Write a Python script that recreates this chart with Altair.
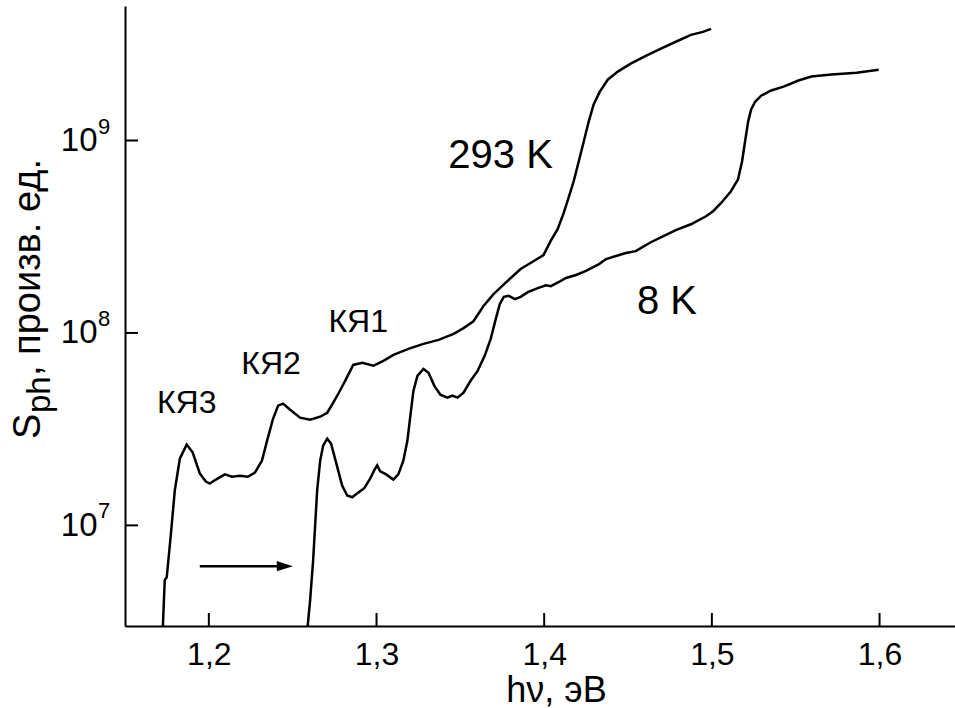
import altair as alt
import pandas as pd

FONT = "Liberation Sans"

# ---- 293 K curve (photon energy, eV ; photosignal, arb. units)
hv_293 = [1.1725, 1.1737, 1.1749, 1.1773, 1.1797, 1.1827, 1.1868, 1.1904, 1.1946, 1.1982,
          1.2006, 1.2042, 1.2096, 1.2138, 1.2185, 1.2233, 1.2275, 1.2317, 1.2347, 1.2383,
          1.2413, 1.2443, 1.2485, 1.2544, 1.2604, 1.2664, 1.2706, 1.2742, 1.2772, 1.2813,
          1.2861, 1.2915, 1.2981, 1.3041, 1.3101, 1.3190, 1.3280, 1.3370, 1.3460, 1.3519,
          1.3578, 1.3638, 1.3698, 1.3769, 1.3859, 1.3919, 1.3996, 1.4038, 1.4080, 1.4116,
          1.4146, 1.4176, 1.4206, 1.4236, 1.4265, 1.4295, 1.4331, 1.4379, 1.4439, 1.4516,
          1.4606, 1.4696, 1.4785, 1.4875, 1.4947, 1.4995]
s_293 = [2.86e6, 5.19e6, 5.38e6, 8.88e6, 1.52e7, 2.22e7, 2.63e7, 2.39e7, 1.86e7, 1.69e7,
         1.65e7, 1.73e7, 1.84e7, 1.79e7, 1.81e7, 1.79e7, 1.88e7, 2.17e7, 2.75e7, 3.58e7,
         4.19e7, 4.29e7, 3.99e7, 3.63e7, 3.54e7, 3.67e7, 3.85e7, 4.34e7, 4.83e7, 5.64e7,
         6.82e7, 7.00e7, 6.75e7, 7.16e7, 7.69e7, 8.26e7, 8.77e7, 9.20e7, 9.89e7, 1.06e8,
         1.15e8, 1.38e8, 1.59e8, 1.82e8, 2.15e8, 2.31e8, 2.54e8, 3.00e8, 3.46e8, 4.19e8,
         5.07e8, 6.14e8, 7.78e8, 9.88e8, 1.25e9, 1.54e9, 1.79e9, 2.07e9, 2.28e9, 2.51e9,
         2.75e9, 3.00e9, 3.26e9, 3.54e9, 3.67e9, 3.80e9]

# ---- 8 K curve
hv_8 = [1.2586, 1.2604, 1.2622, 1.2634, 1.2646, 1.2664, 1.2682, 1.2706, 1.2729, 1.2759,
        1.2795, 1.2825, 1.2855, 1.2891, 1.2927, 1.2962, 1.2986, 1.3004, 1.3022, 1.3058,
        1.3100, 1.3130, 1.3160, 1.3184, 1.3202, 1.3220, 1.3244, 1.3280, 1.3310, 1.3345,
        1.3381, 1.3423, 1.3453, 1.3483, 1.3519, 1.3561, 1.3603, 1.3645, 1.3681, 1.3711,
        1.3735, 1.3759, 1.3789, 1.3825, 1.3860, 1.3902, 1.3962, 1.4010, 1.4040, 1.4088,
        1.4130, 1.4190, 1.4249, 1.4327, 1.4369, 1.4428, 1.4487, 1.4546, 1.4576, 1.4636,
        1.4708, 1.4785, 1.4875, 1.4965, 1.5007, 1.5054, 1.5114, 1.5156, 1.5180, 1.5198,
        1.5216, 1.5234, 1.5258, 1.5294, 1.5354, 1.5432, 1.5516, 1.5594, 1.5713, 1.5863,
        1.5995]
s_8 = [2.79e6, 4.08e6, 6.59e6, 1.00e7, 1.52e7, 2.17e7, 2.60e7, 2.82e7, 2.66e7, 2.12e7,
       1.61e7, 1.43e7, 1.40e7, 1.48e7, 1.56e7, 1.75e7, 1.93e7, 2.05e7, 1.91e7, 1.84e7,
       1.73e7, 1.84e7, 2.17e7, 2.75e7, 3.72e7, 5.00e7, 5.98e7, 6.50e7, 6.21e7, 5.31e7,
       4.78e7, 4.61e7, 4.72e7, 4.61e7, 4.89e7, 5.64e7, 6.35e7, 7.60e7, 9.31e7, 1.18e8,
       1.41e8, 1.54e8, 1.56e8, 1.50e8, 1.54e8, 1.63e8, 1.71e8, 1.77e8, 1.75e8, 1.84e8,
       1.93e8, 2.00e8, 2.10e8, 2.28e8, 2.42e8, 2.51e8, 2.60e8, 2.66e8, 2.76e8, 2.96e8,
       3.18e8, 3.42e8, 3.67e8, 4.04e8, 4.29e8, 4.72e8, 5.45e8, 6.28e8, 7.78e8, 9.88e8,
       1.25e9, 1.45e9, 1.59e9, 1.71e9, 1.82e9, 1.91e9, 2.05e9, 2.15e9, 2.20e9, 2.25e9,
       2.33e9]

# ---- axes
x_ticks = [1.2, 1.3, 1.4, 1.5, 1.6]
y_ticks = [1e7, 1e8, 1e9]
y_exps = ["7", "8", "9"]
x_domain = [1.15, 1.645]
y_domain = [3e6, 5e9]

# ---- annotations
qw_text = ["КЯ3", "КЯ2", "КЯ1"]
qw_hv = [1.1868, 1.2371, 1.2891]
qw_s = [3.85e7, 6.14e7, 1.01e8]
temp_text = ["293 K", "8 K"]
temp_hv = [1.374, 1.4732]
temp_s = [7.16e8, 1.25e8]
arrow_hv_start = [1.1946]
arrow_hv_end = [1.2420]
arrow_head_hv = [1.2453]
arrow_s = [6.14e6]

W, H = 830, 620

curves = pd.DataFrame(
    {"hv": hv_293 + hv_8,
     "S": s_293 + s_8,
     "T": ["293 K"] * len(hv_293) + ["8 K"] * len(hv_8),
     "i": list(range(len(hv_293))) + list(range(len(hv_8)))})

xs = alt.Scale(domain=x_domain, nice=False, zero=False)
ys = alt.Scale(type="log", domain=y_domain, nice=False)

x_axis = alt.Axis(values=x_ticks, ticks=False, grid=False, domainWidth=2, domainColor="black",
                  labelExpr="replace(format(datum.value, '.1f'), '.', ',')",
                  labelFont=FONT, labelFontSize=32, labelColor="black",
                  labelBaseline="alphabetic", labelPadding=38,
                  title="hν, эВ", titleFont=FONT, titleFontSize=36, titleFontWeight="normal",
                  titleColor="black", titleBaseline="alphabetic", titleX=431, titleY=75)
y_axis = alt.Axis(values=y_ticks, ticks=False, grid=False, domainWidth=2, domainColor="black",
                  labelExpr="'10'", labelFont=FONT, labelFontSize=33, labelColor="black",
                  labelPadding=28, labelBaseline="middle", title="")


def X(field="hv"):
    return alt.X(f"{field}:Q", scale=xs, axis=x_axis)


def Y(field="S"):
    return alt.Y(f"{field}:Q", scale=ys, axis=y_axis)


lines = alt.Chart(curves).mark_line(color="black", strokeWidth=2.5, clip=True).encode(
    x=X(), y=Y(), detail="T:N", order="i:Q")

xt = alt.Chart(pd.DataFrame({"hv": x_ticks})).mark_rule(color="black", strokeWidth=2).encode(
    x=X(), y=alt.value(H), y2=alt.value(H - 13))
yt = alt.Chart(pd.DataFrame({"S": y_ticks})).mark_rule(color="black", strokeWidth=2).encode(
    y=Y(), x=alt.value(0), x2=alt.value(13))
sup = alt.Chart(pd.DataFrame({"S": y_ticks, "e": y_exps})).mark_text(
    font=FONT, fontSize=22, align="left", baseline="middle", dy=-14, color="black").encode(
    y=Y(), x=alt.value(-27), text="e:N")

qw = alt.Chart(pd.DataFrame({"hv": qw_hv, "S": qw_s, "t": qw_text})).mark_text(
    font=FONT, fontSize=32, align="center", baseline="alphabetic", color="black").encode(
    x=X(), y=Y(), text="t:N")
temps = alt.Chart(pd.DataFrame({"hv": temp_hv, "S": temp_s, "t": temp_text})).mark_text(
    font=FONT, fontSize=40, align="center", baseline="alphabetic", color="black").encode(
    x=X(), y=Y(), text="t:N")

arrow_df = pd.DataFrame({"hv": arrow_hv_start, "hv2": arrow_hv_end, "S": arrow_s})
arrow = alt.Chart(arrow_df).mark_rule(color="black", strokeWidth=2.5).encode(
    x=X(), x2="hv2:Q", y=Y())
head = alt.Chart(pd.DataFrame({"hv": arrow_head_hv, "S": arrow_s})).mark_point(
    shape="M -1 -0.65 L 1 0 L -1 0.65 Z", filled=True, color="black", opacity=1, size=256).encode(
    x=X(), y=Y())

# y axis title with subscript
ys_main = alt.Chart(pd.DataFrame({"t": ["S"]})).mark_text(
    font=FONT, fontSize=38, angle=270, align="left", baseline="alphabetic", color="black").encode(
    x=alt.value(-85), y=alt.value(433), text="t:N")
ys_sub = alt.Chart(pd.DataFrame({"t": ["ph"]})).mark_text(
    font=FONT, fontSize=33, angle=270, align="left", baseline="alphabetic", color="black").encode(
    x=alt.value(-75), y=alt.value(407), text="t:N")
ys_rest = alt.Chart(pd.DataFrame({"t": [", произв. ед."]})).mark_text(
    font=FONT, fontSize=38, angle=270, align="left", baseline="alphabetic", color="black").encode(
    x=alt.value(-85), y=alt.value(370), text="t:N")

chart = alt.layer(lines, xt, yt, sup, qw, temps, arrow, head, ys_main, ys_sub, ys_rest).properties(
    width=W, height=H,
    padding={"left": 125, "top": 6, "right": 0, "bottom": 82},
    autosize=alt.AutoSizeParams(type="none"),
    background="white",
).configure_view(strokeWidth=0)

chart.save("out.html", embed_options={"renderer": "svg", "actions": False})
